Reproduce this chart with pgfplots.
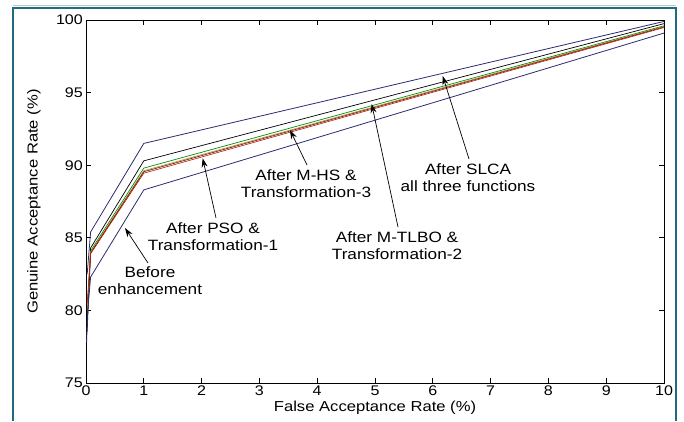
\documentclass[border=0pt]{standalone}
\usepackage{pgfplots}
\pgfplotsset{compat=1.18}
\usepackage{fontspec}
\setmainfont{Liberation Sans}[FakeStretch=1.15]
\usetikzlibrary{arrows.meta}
\definecolor{navy}{rgb}{0.17,0.17,0.45}
\definecolor{frameteal}{rgb}{0.12,0.42,0.50}
\definecolor{mgreen}{rgb}{0.0,0.55,0.1}
\definecolor{morange}{rgb}{0.85,0.55,0.1}
\definecolor{mred}{rgb}{0.8,0.05,0.05}
\begin{document}
\begin{tikzpicture}[x=1bp,y=1bp]
\useasboundingbox (0,0) rectangle (684,421);
\draw[frameteal, line width=1.6bp] (13,0) -- (13,413) -- (676,413) -- (676,0);
\draw[frameteal!35, line width=1.5bp] (13,415.5) -- (676,415.5);
\begin{axis}[
  at={(86bp,38bp)}, anchor=south west,
  scale only axis, width=578bp, height=363bp,
  xmin=0, xmax=10, ymin=75, ymax=100,
  xtick={0,1,...,10}, ytick={75,80,...,100},
  tick align=inside, major tick length=5bp,
  axis line style={line width=0.9bp},
  every tick/.style={black, line width=0.8bp},
  /pgf/number format/assume math mode=true,
  tick label style={font=\fontsize{14}{16}\selectfont},
  xticklabel style={inner sep=2.5bp},
  yticklabel style={inner sep=3bp},
  label style={font=\fontsize{14.5}{16}\selectfont},
  xlabel={False Acceptance Rate (\%)},
  ylabel={Genuine Acceptance Rate (\%)},
  xlabel style={at={(axis description cs:0.5,-0.069)}, anchor=center},
  ylabel style={at={(axis description cs:-0.09,0.5)}, anchor=center},
  clip=true,
]
\addplot[navy, line width=0.8bp] coordinates {(0.02,82.5) (0.08,85.4) (1,91.5) (10,99.9)};
\addplot[black, line width=0.7bp] coordinates {(0.02,79.5) (0.08,84.3) (1,90.3) (10,99.75)};
\addplot[mgreen, line width=0.7bp] coordinates {(0.02,79.0) (0.08,84.1) (1,89.8) (10,99.6)};
\addplot[morange, line width=0.7bp] coordinates {(0.02,80.0) (0.08,84.0) (1,89.62) (10,99.56)};
\addplot[black!70!brown, line width=0.6bp] coordinates {(0.02,78.5) (0.08,83.95) (1,89.55) (10,99.52)};
\addplot[mred, line width=0.6bp] coordinates {(0.02,80.5) (0.08,83.9) (1,89.45) (10,99.48)};
\addplot[navy, line width=0.8bp] coordinates {(0.01,77.8) (0.03,80.0) (0.08,82.3) (1,88.3) (10,99.1)};
\end{axis}
\tikzset{ann/.style={-{Stealth[length=9bp,width=6bp]}, black, line width=0.7bp},
         lab/.style={align=center, font=\fontsize{15}{17}\selectfont, inner sep=0pt}}
\draw[ann] (148,158) -- (125,193);
\node[lab] at (150,140) {Before\\enhancement};
\draw[ann] (216,203) -- (202.7,262.7);
\node[lab] at (213,184) {After PSO \&\\Transformation-1};
\draw[ann] (307,256) -- (290,291);
\node[lab] at (306,237) {After M-HS \&\\Transformation-3};
\draw[ann] (398,194) -- (371.7,317);
\node[lab] at (397,175.5) {After M-TLBO \&\\Transformation-2};
\draw[ann] (469,262) -- (442.7,345);
\node[lab] at (468,243.5) {After SLCA\\all three functions};
\end{tikzpicture}
\end{document}
